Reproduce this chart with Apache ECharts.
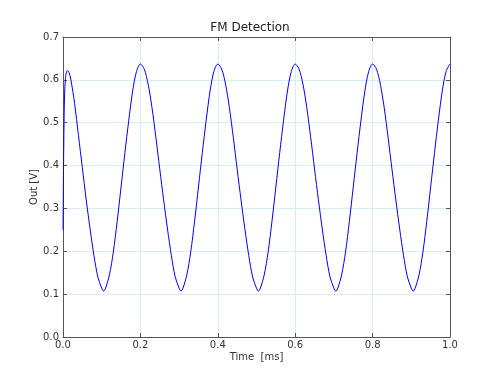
<!DOCTYPE html>
<html>
<head>
<meta charset="utf-8">
<script src="https://cdn.jsdelivr.net/npm/echarts@6/dist/echarts.min.js"></script>
<style>html,body{margin:0;padding:0;background:#fff}#c{width:500px;height:375px}</style>
</head>
<body>
<div id="c"></div>
<script>
var chartTitle = 'FM Detection';
var xName = 'Time  [ms]';
var yName = 'Out [V]';
var xTicks = [0.0, 0.2, 0.4, 0.6, 0.8, 1.0];
var yTicks = [0.0, 0.1, 0.2, 0.3, 0.4, 0.5, 0.6, 0.7];

var timeMs = [
  0.000, 0.003, 0.006, 0.011, 0.016, 0.020, 0.030, 0.040, 0.050, 0.060, 0.070, 0.080, 0.090, 0.100, 0.105, 0.110, 0.120, 0.130, 0.140, 0.150, 0.160, 0.170, 0.180, 0.190, 0.200,
  0.210, 0.220, 0.230, 0.240, 0.250, 0.260, 0.270, 0.280, 0.290, 0.300, 0.305, 0.310, 0.320, 0.330, 0.340, 0.350, 0.360, 0.370, 0.380, 0.390, 0.400,
  0.410, 0.420, 0.430, 0.440, 0.450, 0.460, 0.470, 0.480, 0.490, 0.500, 0.505, 0.510, 0.520, 0.530, 0.540, 0.550, 0.560, 0.570, 0.580, 0.590, 0.600,
  0.610, 0.620, 0.630, 0.640, 0.650, 0.660, 0.670, 0.680, 0.690, 0.700, 0.705, 0.710, 0.720, 0.730, 0.740, 0.750, 0.760, 0.770, 0.780, 0.790, 0.800,
  0.810, 0.820, 0.830, 0.840, 0.850, 0.860, 0.870, 0.880, 0.890, 0.900, 0.905, 0.910, 0.920, 0.930, 0.940, 0.950, 0.960, 0.970, 0.980, 0.990, 1.000
];
var outV = [
  0.250, 0.520, 0.600, 0.622, 0.616, 0.602, 0.545, 0.470, 0.395, 0.320, 0.252, 0.190, 0.140, 0.114, 0.107, 0.114, 0.145, 0.198, 0.270, 0.350, 0.430, 0.506, 0.574, 0.620, 0.637,
  0.625, 0.590, 0.535, 0.466, 0.392, 0.320, 0.252, 0.190, 0.140, 0.114, 0.107, 0.114, 0.145, 0.198, 0.270, 0.350, 0.430, 0.506, 0.574, 0.620, 0.637,
  0.625, 0.590, 0.535, 0.466, 0.392, 0.320, 0.252, 0.190, 0.140, 0.114, 0.107, 0.114, 0.145, 0.198, 0.270, 0.350, 0.430, 0.506, 0.574, 0.620, 0.637,
  0.625, 0.590, 0.535, 0.466, 0.392, 0.320, 0.252, 0.190, 0.140, 0.114, 0.107, 0.114, 0.145, 0.198, 0.270, 0.350, 0.430, 0.506, 0.574, 0.620, 0.637,
  0.625, 0.590, 0.535, 0.466, 0.392, 0.320, 0.252, 0.190, 0.140, 0.114, 0.107, 0.114, 0.145, 0.198, 0.270, 0.350, 0.430, 0.506, 0.574, 0.620, 0.637
];

var FONT = 'DejaVu Sans';
var axisCol = '#555555';
var gridCol = '#d8eef4';

var chart = echarts.init(document.getElementById('c'), null, {renderer: 'canvas'});
var data = timeMs.map(function (t, i) { return [t, outV[i]]; });

function baseAxis(ticks, extra) {
  var o = {
    type: 'value',
    min: ticks[0],
    max: ticks[ticks.length - 1],
    interval: +(ticks[1] - ticks[0]).toFixed(3),
    axisLine: {show: true, onZero: false, lineStyle: {color: axisCol, width: 1}},
    axisTick: {show: true, inside: true, length: 4, lineStyle: {color: axisCol}},
    splitLine: {show: false},
    axisLabel: {show: false}
  };
  for (var k in extra) o[k] = extra[k];
  return o;
}

chart.setOption({
  animation: false,
  backgroundColor: '#ffffff',
  title: {
    text: chartTitle,
    left: 'center',
    top: 17,
    textStyle: {fontFamily: FONT, fontSize: 12, fontWeight: 'normal', color: '#222'}
  },
  grid: {left: 63, right: 50, top: 37, bottom: 38},
  xAxis: [
    baseAxis(xTicks, {
      position: 'bottom',
      name: xName,
      nameLocation: 'middle',
      nameGap: 15,
      nameMoveOverlap: false,
      nameTextStyle: {fontFamily: FONT, fontSize: 10, color: '#333'},
      splitLine: {show: true, lineStyle: {color: gridCol, width: 1}},
      axisLabel: {show: true, margin: 3, fontFamily: FONT, fontSize: 10, color: '#333',
        formatter: function (v) { return v.toFixed(1); }}
    }),
    baseAxis(xTicks, {position: 'top'})
  ],
  yAxis: [
    baseAxis(yTicks, {
      position: 'left',
      name: yName,
      nameLocation: 'middle',
      nameGap: 24,
      nameMoveOverlap: false,
      nameTextStyle: {fontFamily: FONT, fontSize: 10, color: '#333'},
      splitLine: {show: true, lineStyle: {color: gridCol, width: 1}},
      axisLabel: {show: true, margin: 4, fontFamily: FONT, fontSize: 10, color: '#333',
        formatter: function (v) { return v.toFixed(1); }}
    }),
    baseAxis(yTicks, {position: 'right'})
  ],
  series: [{
    type: 'line',
    data: data,
    xAxisIndex: 0,
    yAxisIndex: 0,
    smooth: 0.3,
    showSymbol: false,
    lineStyle: {color: '#0000ff', width: 1},
    z: 5
  }]
});
</script>
</body>
</html>
